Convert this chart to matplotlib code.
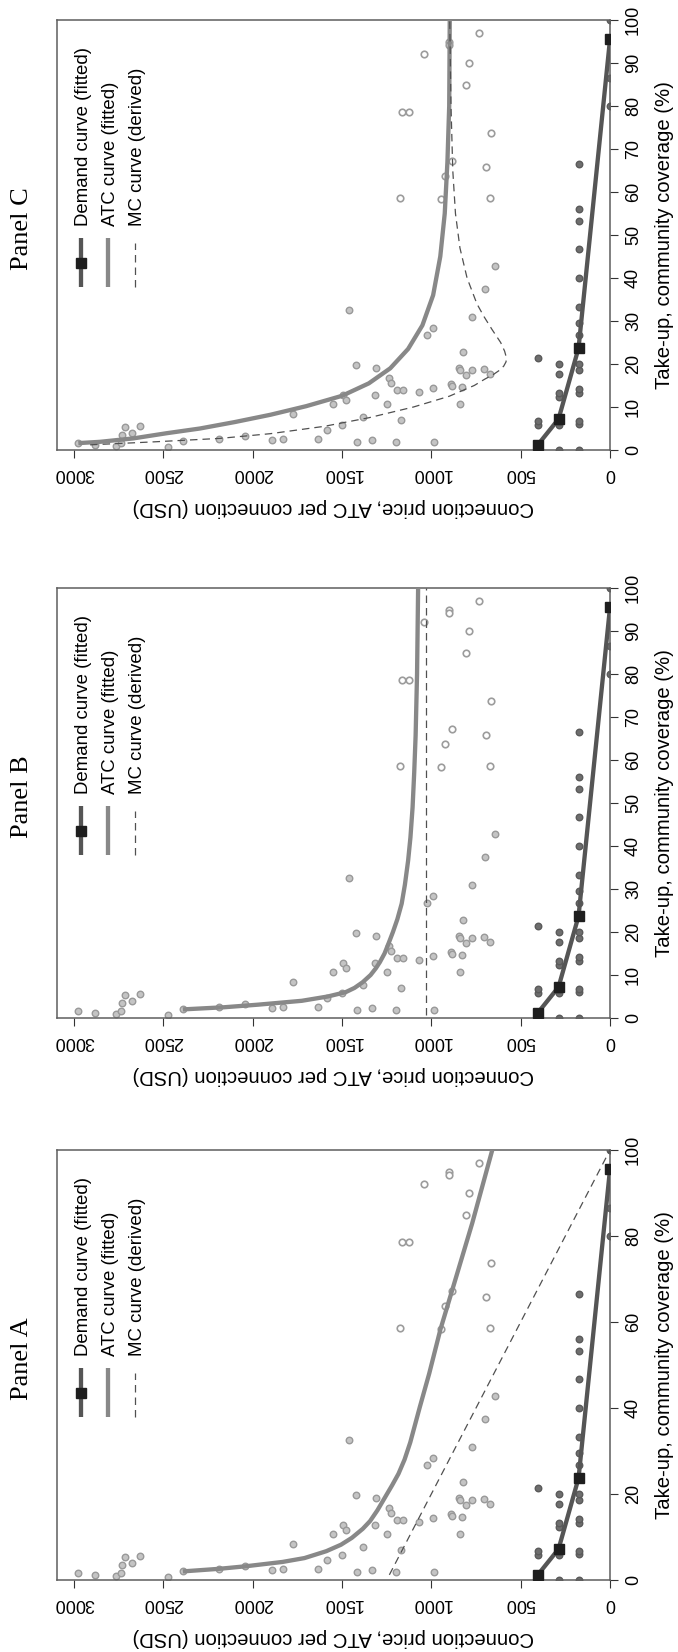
#%%
# three cost / demand panels, drawn turned on their side
import matplotlib
matplotlib.use('Agg')
import matplotlib.pyplot as plt


#%%
fig_w, fig_h, dpi = 6.78, 16.52, 100
sans = 'Liberation Sans'
serif = 'Liberation Serif'
fs_tick = 13.0
fs_lab = 14.6
fs_leg = 13.4

# observed ATC per connection, filled points (take-up %, USD)
atc_tu = [42.7, 37.4, 32.5, 30.9, 28.4, 26.7, 22.9, 19.8, 19.1, 19.1, 18.7, 18.7, 18.8, 17.5, 17.7,
          16.7, 15.6, 14.0, 14.0, 13.6, 14.4, 15.4, 14.8, 14.6, 12.7, 11.7, 12.7, 10.7, 10.7, 10.7,
          8.3, 7.6, 7.0, 4.7, 5.7, 3.3, 2.5, 2.3, 2.6, 2.6, 1.8, 2.3, 1.8, 1.8, 2.0, 0.6,
          1.6, 1.2, 0.9, 1.6, 3.5, 5.3, 4.0, 5.5]
atc_price = [645, 700, 1459, 771, 992, 1027, 822, 1422, 1310, 843, 837, 771, 706, 806, 673,
             1235, 1227, 1190, 1157, 1071, 990, 888, 884, 827, 1496, 1480, 1316, 1553, 1249, 839,
             1776, 1380, 1169, 1586, 1502, 2043, 2188, 1892, 1831, 1635, 1418, 1331, 1200, 986, 2391, 2473,
             2980, 2880, 2765, 2739, 2733, 2716, 2673, 2633]

# observed ATC per connection, open points
open_tu = [97.0, 94.9, 94.2, 92.1, 90.0, 84.8, 78.5, 78.5, 73.7, 67.3, 65.9, 63.8, 58.7, 58.3, 58.7]
open_price = [731, 900, 900, 1041, 792, 806, 1163, 1127, 667, 884, 696, 922, 1173, 945, 673]

# observed connection price vs take-up
dem_obs_tu = [0, 5.7, 6.7, 21.4,
              0, 5.7, 6.5, 12.4, 13.2, 17.7, 20.1,
              0, 6.1, 6.7, 13.2, 14.2, 18.7, 20.1, 26.7, 29.5, 33.2, 39.9, 46.7, 53.3, 56.1, 66.6,
              80.0, 86.5, 100.0]
dem_obs_price = [404, 404, 404, 404,
                 288, 288, 288, 288, 288, 288, 288,
                 176, 176, 176, 176, 176, 176, 176, 176, 176, 176, 176, 176, 176, 176, 176,
                 0, 0, 0]

# fitted demand curve
dem_tu = [1.2, 7.2, 23.7, 95.5]
dem_price = [404, 288, 176, 0]

# Panel A curves
atc_a_tu = [2.0, 2.6, 3.2, 4.2, 5.1, 6.7, 8.2, 9.8, 11.9, 13.7, 16.2, 19.1, 22.0, 24.7, 28, 32, 36,
            40.3, 48, 58.3, 67.3, 83.0, 100]
atc_a_price = [2391, 2188, 2037, 1833, 1710, 1588, 1506, 1445, 1384, 1343, 1302, 1261, 1220, 1184, 1150, 1118, 1092,
               1064, 1012, 949, 884, 771, 659]
mc_a_tu = [1.2, 100]
mc_a_price = [1235, 0]

# Panel B curves
atc_b_tu = [2.0, 2.5, 3.1, 4.0, 5.0, 6.0, 7.0, 8.3, 10, 11.6, 13, 15, 17.5, 20, 23, 26.6, 31, 36.6, 42, 49, 57, 65.7, 80, 100]
atc_b_price = [2391, 2160, 1970, 1725, 1580, 1480, 1430, 1385, 1340, 1310, 1288, 1262, 1238, 1215, 1190, 1166, 1148, 1130,
               1117, 1105, 1096, 1088, 1080, 1074]
mc_b_tu = [0.8, 100]
mc_b_price = [1032, 1032]

# Panel C curves
atc_c_tu = [1.6, 1.9, 2.7, 3.9, 5.0, 6.5, 8.2, 10.2, 12.6, 15.5, 19, 23.5, 29, 36, 45, 55, 67, 80, 100]
atc_c_price = [2976, 2855, 2668, 2482, 2295, 2100, 1900, 1700, 1500, 1350, 1230, 1130, 1050, 990, 950, 925, 910, 900, 897]
mc_c_tu = [1.2, 1.9, 2.7, 3.8, 5.5, 7.5, 10, 12.5, 15, 16.5, 17.5, 18.5, 19.5, 20.5, 21.5, 23, 25, 28, 31, 34, 40, 47,
           55, 65, 80, 100]
mc_c_price = [2910, 2550, 2183, 1900, 1600, 1350, 1100, 900, 760, 700, 655, 620, 595, 582, 580, 590, 612, 660, 705, 745,
              800, 840, 865, 880, 890, 897]

price_ticks = [0, 500, 1000, 1500, 2000, 2500, 3000]
legend_labels = ['Demand curve (fitted)', 'ATC curve (fitted)', 'MC curve (derived)']


#%%
def plot_panel(ax, title, atc_x, atc_y, mc_x, mc_y, tu_step):
    # observations
    ax.scatter(atc_price, atc_tu, s=22, facecolor='#c4c4c4', edgecolor='#999999', linewidth=1.0, zorder=2)
    ax.scatter(open_price, open_tu, s=22, facecolor='white', edgecolor='#9c9c9c', linewidth=1.2, zorder=2)
    ax.scatter(dem_obs_price, dem_obs_tu, s=22, facecolor='#6e6e6e', edgecolor='#5a5a5a', linewidth=1.0, zorder=2)

    # fitted curves
    ax.plot(atc_y, atc_x, color='#888888', lw=3.1, solid_capstyle='butt', zorder=3)
    ax.plot(mc_y, mc_x, color='#505050', lw=0.9, ls=(0, (6, 4)), zorder=3)
    ax.plot(dem_price, dem_tu, color='#555555', lw=3.1, zorder=4)
    ax.plot(dem_price, dem_tu, ls='none', marker='s', ms=6.5, color='#1e1e1e', zorder=5)

    ax.set_xlim(3097, 0)
    ax.set_ylim(0, 100)
    ax.set_xticks(price_ticks)
    ax.set_xticklabels([str(v) for v in price_ticks], rotation=180, fontsize=fs_tick, family=sans)
    tu_ticks = list(range(0, 101, tu_step))
    ax.yaxis.tick_right()
    ax.set_yticks(tu_ticks)
    ax.set_yticklabels([str(v) for v in tu_ticks], rotation=90, va='center', fontsize=fs_tick, family=sans)
    ax.tick_params(direction='out', length=5.8, width=0.8, color='#333333', pad=5)
    for s in ax.spines.values():
        s.set_color('#5e5e5e')
        s.set_linewidth(1.1)

    # axis titles and panel title
    ax.text(0.5, -0.133, 'Connection price, ATC per connection (USD)', transform=ax.transAxes,
            rotation=180, ha='center', va='center', fontsize=fs_lab, family=sans)
    ax.text(1.0994, 0.5, 'Take-up, community coverage (%)', transform=ax.transAxes,
            rotation=90, ha='center', va='center', fontsize=fs_lab, family=sans)
    ax.text(-0.063, 0.515, title, transform=ax.transAxes, rotation=90,
            ha='center', va='center', fontsize=19, family=serif)

    # legend, drawn by hand as the entries run upwards
    lx = [0.0448, 0.0936, 0.1424]
    y0, y1 = 0.378, 0.492
    ax.plot([lx[0], lx[0]], [y0, y1], transform=ax.transAxes, color='#555555', lw=3.1, solid_capstyle='butt')
    ax.plot([lx[0]], [0.434], transform=ax.transAxes, marker='s', ms=6.5, color='#1e1e1e')
    ax.plot([lx[1], lx[1]], [y0, y1], transform=ax.transAxes, color='#888888', lw=3.1, solid_capstyle='butt')
    ax.plot([lx[2], lx[2]], [y0, y1 - 0.01], transform=ax.transAxes, color='#505050', lw=0.9, ls=(0, (6, 4)))
    for x, lab in zip(lx, legend_labels):
        ax.text(x + 0.003, 0.52, lab, transform=ax.transAxes, rotation=90, rotation_mode='anchor',
                ha='left', va='center', fontsize=fs_leg, family=sans)


#%%
fig = plt.figure(figsize=(fig_w, fig_h), dpi=dpi)
left, width, height = 56.7 / 678, 553.3 / 678, 430 / 1652
tops = {'C': 20, 'B': 588, 'A': 1150}

axc = fig.add_axes([left, 1 - (tops['C'] + 430) / 1652, width, height])
axb = fig.add_axes([left, 1 - (tops['B'] + 430) / 1652, width, height])
axa = fig.add_axes([left, 1 - (tops['A'] + 430) / 1652, width, height])

plot_panel(axc, 'Panel C', atc_c_tu, atc_c_price, mc_c_tu, mc_c_price, 10)
plot_panel(axb, 'Panel B', atc_b_tu, atc_b_price, mc_b_tu, mc_b_price, 10)
plot_panel(axa, 'Panel A', atc_a_tu, atc_a_price, mc_a_tu, mc_a_price, 20)

fig.savefig('out.png', dpi=dpi)
